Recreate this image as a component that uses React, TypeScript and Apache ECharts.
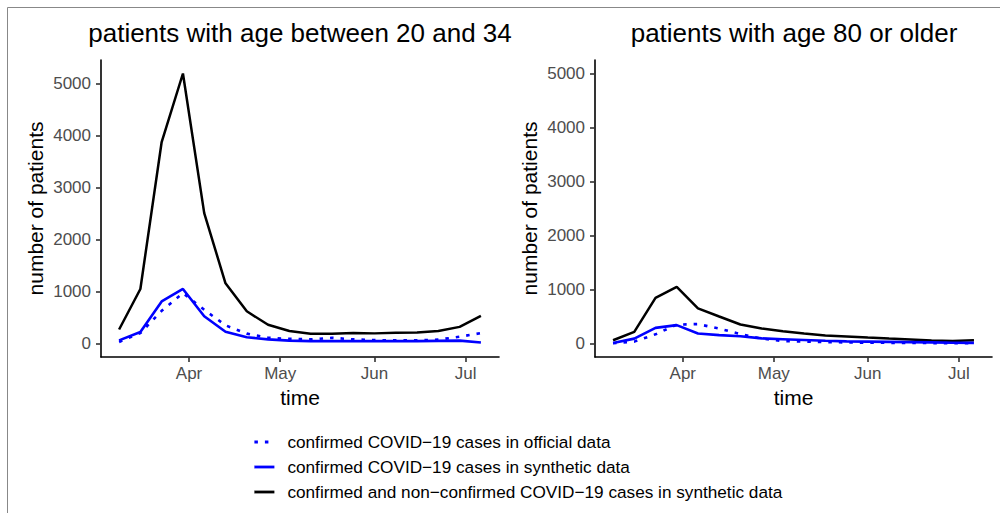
import React, { useEffect, useRef } from "react";
import * as echarts from "echarts";

// weekly dates (Mondays, 2020)
const dates = [
  "2020-03-09", "2020-03-16", "2020-03-23", "2020-03-30", "2020-04-06", "2020-04-13",
  "2020-04-20", "2020-04-27", "2020-05-04", "2020-05-11", "2020-05-18", "2020-05-25",
  "2020-06-01", "2020-06-08", "2020-06-15", "2020-06-22", "2020-06-29", "2020-07-06",
];

// age 20–34
const youngTotal = [270, 1050, 3880, 5200, 2510, 1160, 620, 360, 240, 190, 190, 200, 195, 205, 210, 240, 320, 530];
const youngSynthetic = [60, 220, 810, 1050, 525, 225, 120, 80, 55, 45, 45, 48, 45, 45, 45, 50, 55, 20];
const youngOfficial = [30, 200, 630, 970, 650, 350, 190, 110, 90, 80, 110, 80, 65, 60, 60, 75, 130, 200];

// age 80+
const oldTotal = [60, 215, 846, 1050, 650, 500, 352, 278, 225, 185, 150, 130, 110, 92, 75, 55, 45, 60];
const oldSynthetic = [10, 90, 290, 340, 185, 155, 135, 95, 80, 65, 50, 40, 35, 30, 25, 20, 15, 12];
const oldOfficial = [5, 35, 170, 350, 360, 275, 175, 90, 45, 35, 25, 20, 15, 12, 10, 8, 6, 5];

const monthTicks = ["2020-04-01", "2020-05-01", "2020-06-01", "2020-07-01"];
const monthLabels = ["Apr", "May", "Jun", "Jul"];
const yTicks = [0, 1000, 2000, 3000, 4000, 5000];

const panelTitles = ["patients with age between 20 and 34", "patients with age 80 or older"];
const seriesNames = [
  "confirmed COVID\u221219 cases in official data",
  "confirmed COVID\u221219 cases in synthetic data",
  "confirmed and non\u2212confirmed COVID\u221219 cases in synthetic data",
];
const xTitle = "time";
const yTitle = "number of patients";

const FONT = "'Liberation Sans', Arial, Helvetica, sans-serif";

export default function App() {
  const ref = useRef<HTMLDivElement>(null);

  useEffect(() => {
    if (!ref.current) return;
    const chart = echarts.init(ref.current, undefined, { renderer: "svg" });

    const ts = dates.map((d) => Date.parse(d));
    const span = ts[ts.length - 1] - ts[0];
    const xMin = ts[0] - span * 0.05;
    const xMax = ts[ts.length - 1] + span * 0.05;
    const monthTs = monthTicks.map((d) => Date.parse(d));

    const pair = (vals: number[]) => vals.map((v, i) => [ts[i], v]);

    const yRanges = [
      { min: -260, max: 5460 },
      { min: -250, max: 5250 },
    ];

    const xAxis = [0, 1].map((i) => ({
      type: "value",
      gridIndex: i,
      min: xMin,
      max: xMax,
      name: xTitle,
      nameLocation: "middle",
      nameGap: 28,
      nameTextStyle: { fontSize: 21, color: "#000", fontFamily: FONT },
      axisLine: { show: true, onZero: false, lineStyle: { color: "#000", width: 1.6 } },
      axisTick: { show: true, length: 5, customValues: monthTs, lineStyle: { color: "#333", width: 1.6 } },
      axisLabel: {
        customValues: monthTs,
        formatter: (v: number) => {
          const k = monthTs.indexOf(v);
          return k >= 0 ? monthLabels[k] : "";
        },
        fontSize: 17,
        color: "#4D4D4D",
        margin: 8,
        fontFamily: FONT,
      },
      splitLine: { show: false },
    }));

    const yAxis = [0, 1].map((i) => ({
      type: "value",
      gridIndex: i,
      min: yRanges[i].min,
      max: yRanges[i].max,
      name: yTitle,
      nameLocation: "middle",
      nameGap: 55,
      nameTextStyle: { fontSize: 21, color: "#000", fontFamily: FONT },
      axisLine: { show: true, onZero: false, lineStyle: { color: "#000", width: 1.6 } },
      axisTick: { show: true, length: 5, customValues: yTicks, lineStyle: { color: "#333", width: 1.6 } },
      axisLabel: {
        customValues: yTicks,
        formatter: (v: number) => String(v),
        fontSize: 17,
        color: "#4D4D4D",
        margin: 10,
        fontFamily: FONT,
      },
      splitLine: { show: false },
    }));

    const panels = [
      [youngOfficial, youngSynthetic, youngTotal],
      [oldOfficial, oldSynthetic, oldTotal],
    ];
    const styles = [
      { color: "#0000FF", width: 2.6, type: [3.5, 7], cap: "butt" },
      { color: "#0000FF", width: 2.6, type: "solid", cap: "butt" },
      { color: "#000000", width: 2.5, type: "solid", cap: "butt" },
    ];

    const series: any[] = [];
    panels.forEach((panel, p) => {
      panel.forEach((vals, k) => {
        series.push({
          type: "line",
          name: seriesNames[k],
          xAxisIndex: p,
          yAxisIndex: p,
          data: pair(vals),
          symbol: "none",
          showSymbol: false,
          silent: true,
          z: k === 0 ? 3 : k === 1 ? 2 : 1,
          itemStyle: { color: styles[k].color },
          lineStyle: { ...styles[k] },
        });
      });
    });

    chart.setOption({
      animation: false,
      backgroundColor: "#fff",
      title: [
        {
          text: panelTitles[0],
          left: 300,
          top: 20,
          textAlign: "center",
          padding: 0,
          textStyle: { fontSize: 26, fontWeight: "normal", color: "#000", fontFamily: FONT },
        },
        {
          text: panelTitles[1],
          left: 794,
          top: 20,
          textAlign: "center",
          padding: 0,
          textStyle: { fontSize: 26, fontWeight: "normal", color: "#000", fontFamily: FONT },
        },
      ],
      grid: [
        { left: 101, top: 60, width: 398, height: 297 },
        { left: 595, top: 60, width: 397, height: 297 },
      ],
      xAxis,
      yAxis,
      legend: {
        orient: "vertical",
        left: 253,
        top: 432,
        padding: 0,
        itemWidth: 20,
        itemHeight: 14,
        itemGap: 5,
        selectedMode: false,
        data: seriesNames,
        itemStyle: { opacity: 0 },
        lineStyle: { width: 2.8 },
        textStyle: { fontSize: 17.2, color: "#000", fontFamily: FONT, lineHeight: 20, padding: [0, 0, 0, 8] },
      },
      graphic: [
        { type: "line", shape: { x1: 7.5, y1: 7.5, x2: 7.5, y2: 513 }, style: { stroke: "#888", lineWidth: 1 }, silent: true },
        { type: "line", shape: { x1: 7.5, y1: 7.5, x2: 1000, y2: 7.5 }, style: { stroke: "#888", lineWidth: 1 }, silent: true },
      ],
      series,
    });

    return () => chart.dispose();
  }, []);

  return (
    <div
      ref={ref}
      style={{ position: "absolute", left: 0, top: 0, width: 1000, height: 513, background: "#fff" }}
    />
  );
}
